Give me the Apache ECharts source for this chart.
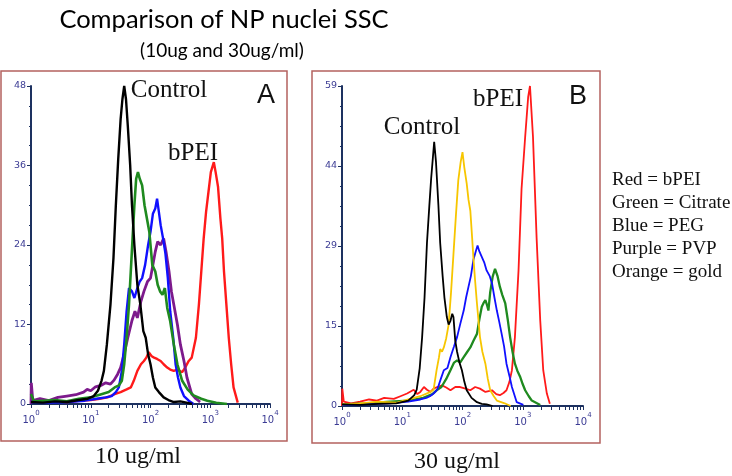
<!DOCTYPE html>
<html>
<head>
<meta charset="utf-8">
<script src="https://cdn.jsdelivr.net/npm/echarts@6/dist/echarts.min.js"></script>
<style>
  html, body { margin: 0; padding: 0; background: #fff; }
  #main { width: 732px; height: 476px; }
</style>
</head>
<body>
<div id="main"></div>
<script>
// x positions are log10 of the SSC channel value, y is the event count
// panel A: 10 ug/ml
const blackA_x  = [0, 0.2, 0.4, 0.6, 0.8, 0.95, 1.05, 1.12, 1.18, 1.22, 1.27, 1.33, 1.38, 1.42, 1.46, 1.5, 1.53, 1.56, 1.59, 1.62, 1.66, 1.69, 1.73, 1.78, 1.83, 1.88, 1.92, 1.96, 2.0, 2.04, 2.08, 2.14, 2.22, 2.3, 2.39, 2.5, 2.6, 2.7];
const blackA_y  = [0.3, 0.2, 0.4, 0.3, 0.6, 0.8, 1.2, 2, 3.5, 5, 9, 15, 22, 30, 37, 43, 46, 48, 46, 42, 36, 30, 24, 18, 15, 11, 10, 7.5, 6, 4, 2.5, 1.8, 1, 0.6, 0.3, 0.4, 0.2, 0];
const greenA_x  = [0, 0.02, 0.05, 0.2, 0.4, 0.6, 0.8, 1.0, 1.15, 1.3, 1.4, 1.47, 1.52, 1.56, 1.6, 1.64, 1.67, 1.7, 1.73, 1.76, 1.79, 1.82, 1.86, 1.9, 1.94, 1.98, 2.03, 2.08, 2.12, 2.16, 2.2, 2.24, 2.28, 2.33, 2.39, 2.45, 2.53, 2.62, 2.72, 2.85, 2.95, 3.1, 3.28];
const greenA_y  = [1.5, 1.2, 0.4, 0.5, 0.6, 0.4, 0.8, 1.0, 1.4, 1.8, 2.5, 2.8, 3.5, 6, 10, 15, 20, 25, 30, 34, 35, 34, 33, 30, 28, 26, 21, 20, 18, 17, 16.5, 17.5, 14.5, 12.5, 9, 6, 3.5, 2.2, 1.3, 0.8, 0.5, 0.2, 0];
const blueA_x   = [0, 0.3, 0.6, 0.9, 1.1, 1.25, 1.35, 1.42, 1.47, 1.52, 1.56, 1.6, 1.64, 1.69, 1.73, 1.78, 1.82, 1.86, 1.91, 1.96, 2.0, 2.04, 2.08, 2.11, 2.14, 2.17, 2.21, 2.25, 2.29, 2.33, 2.38, 2.42, 2.46, 2.5, 2.56, 2.64, 2.72];
const blueA_y   = [0.3, 0.2, 0.3, 0.5, 0.8, 1, 1.2, 1.8, 2.5, 5, 9, 14, 17.5, 17, 16, 17.5, 18.5, 19, 21, 24, 26, 28.7, 29.5, 31, 29, 27, 25, 22.7, 19, 14, 10, 6, 4, 2.5, 1.2, 0.5, 0];
const purpleA_x = [0, 0.005, 0.03, 0.15, 0.3, 0.45, 0.6, 0.75, 0.88, 0.94, 1.0, 1.08, 1.17, 1.25, 1.33, 1.39, 1.45, 1.5, 1.56, 1.62, 1.69, 1.74, 1.78, 1.84, 1.89, 1.95, 2.0, 2.04, 2.08, 2.12, 2.17, 2.22, 2.26, 2.31, 2.35, 2.39, 2.45, 2.5, 2.56, 2.61, 2.69, 2.76, 2.83];
const purpleA_y = [0, 3.2, 0.5, 0.8, 0.5, 1.0, 1.2, 1.4, 1.8, 2.2, 2.0, 2.6, 2.8, 3.2, 3.0, 3.6, 4.5, 5.5, 7.6, 10, 12.6, 14, 13, 15.5, 17, 18.5, 19, 21, 23, 24.5, 24, 25, 23, 20, 17, 15, 12, 9, 6.5, 4, 1.5, 0.8, 0.3];
const redA_x    = [0, 0.2, 0.4, 0.6, 0.8, 1.0, 1.15, 1.28, 1.4, 1.5, 1.6, 1.67, 1.72, 1.78, 1.84, 1.89, 1.93, 1.97, 2.02, 2.06, 2.11, 2.17, 2.22, 2.28, 2.33, 2.39, 2.45, 2.53, 2.58, 2.64, 2.69, 2.72, 2.76, 2.81, 2.85, 2.89, 2.93, 2.97, 3.01, 3.06, 3.09, 3.13, 3.17, 3.2, 3.23, 3.27, 3.31, 3.35, 3.39, 3.46];
const redA_y    = [0.5, 0.3, 0.4, 0.3, 0.5, 0.6, 0.8, 1.0, 1.5, 1.8, 2.2, 2.5, 3.5, 5, 6, 6.5, 7, 7.8, 7.2, 7, 6.8, 6.5, 6, 5.5, 5.2, 5, 5.2, 4.8, 5.5, 6.5, 7, 7.2, 10, 15, 20, 25, 29, 32, 35, 36.5, 35, 32.8, 28, 25, 20, 15, 10, 6, 2.5, 0.2];

// panel B: 30 ug/ml
const blackB_x  = [0, 0.3, 0.6, 0.9, 1.1, 1.2, 1.24, 1.29, 1.33, 1.37, 1.41, 1.45, 1.48, 1.51, 1.53, 1.56, 1.6, 1.63, 1.67, 1.7, 1.74, 1.77, 1.8, 1.83, 1.85, 1.88, 1.91, 1.95, 1.99, 2.03, 2.07, 2.15, 2.24, 2.32, 2.4, 2.5];
const blackB_y  = [0.3, 0.2, 0.4, 0.5, 1, 2, 3, 7, 12.7, 20, 30, 37, 42, 46, 48.7, 45, 37, 30, 24, 20, 16.4, 15, 15.7, 17, 16.4, 12, 10, 8, 6.6, 4.5, 2.9, 1.5, 0.7, 0.4, 0.3, 0];
const goldB_x   = [0, 0.3, 0.6, 0.9, 1.1, 1.3, 1.45, 1.52, 1.57, 1.61, 1.63, 1.66, 1.69, 1.73, 1.77, 1.81, 1.85, 1.89, 1.93, 1.97, 2.0, 2.03, 2.07, 2.1, 2.13, 2.16, 2.18, 2.21, 2.24, 2.29, 2.33, 2.38, 2.42, 2.46, 2.52, 2.57, 2.7, 2.8];
const goldB_y   = [0.3, 0.5, 0.8, 0.6, 1.2, 1.8, 2.5, 3, 6.6, 9, 10.5, 10, 10.8, 12.5, 15, 21, 28, 35, 41.6, 45, 46.8, 44, 41, 38, 36, 31, 27.5, 23, 18.9, 12.7, 10, 7.8, 5, 2.9, 1.8, 1, 0.5, 0];
const blueB_x   = [0, 0.4, 0.8, 1.1, 1.3, 1.4, 1.46, 1.52, 1.58, 1.64, 1.69, 1.75, 1.8, 1.86, 1.91, 1.96, 2.02, 2.06, 2.1, 2.14, 2.18, 2.22, 2.25, 2.28, 2.32, 2.36, 2.4, 2.45, 2.49, 2.53, 2.57, 2.61, 2.65, 2.69, 2.73, 2.78, 2.82, 2.9, 3.01];
const blueB_y   = [0.2, 0.3, 0.5, 0.8, 1.2, 1.5, 1.8, 2.3, 3, 5, 6.6, 7, 9, 11, 12.7, 15, 17.6, 20, 22, 24, 26.9, 28.5, 29.6, 28.5, 27.5, 26.5, 25, 24, 22.6, 20, 17.6, 15.5, 13.3, 11, 7.8, 5.5, 3.5, 0.7, 0.2];
const greenB_x  = [0, 0.4, 0.8, 1.1, 1.35, 1.5, 1.57, 1.65, 1.73, 1.8, 1.86, 1.91, 1.96, 2.02, 2.08, 2.13, 2.18, 2.24, 2.28, 2.32, 2.35, 2.38, 2.41, 2.43, 2.46, 2.5, 2.54, 2.58, 2.62, 2.66, 2.71, 2.75, 2.79, 2.83, 2.87, 2.91, 2.96, 3.0, 3.04, 3.1, 3.15, 3.29];
const greenB_y  = [0.3, 0.5, 0.8, 1, 1.5, 2.2, 2.9, 3.5, 5, 6.6, 8, 8.4, 8, 9, 10, 10.8, 12, 13.3, 16, 18.3, 19, 19.5, 18.5, 17.6, 21, 23.8, 25.3, 24, 22, 20.5, 18.9, 16, 12.7, 10, 7.8, 6.5, 5.3, 4, 2.9, 1.8, 1, 0.2];
const redB_x    = [0, 0.005, 0.03, 0.15, 0.3, 0.45, 0.58, 0.7, 0.86, 0.97, 1.08, 1.19, 1.25, 1.3, 1.36, 1.41, 1.47, 1.52, 1.58, 1.66, 1.73, 1.8, 1.88, 1.96, 2.05, 2.13, 2.21, 2.29, 2.38, 2.49, 2.56, 2.62, 2.68, 2.73, 2.78, 2.82, 2.87, 2.93, 2.98, 3.04, 3.09, 3.12, 3.17, 3.23, 3.29, 3.34, 3.4, 3.45];
const redB_y    = [0, 3.2, 0.8, 0.5, 0.8, 1.2, 1.0, 1.5, 1.3, 1.8, 2.3, 3.0, 2.2, 2.6, 3.5, 3.0, 2.6, 3.2, 3.5, 3.8, 3.4, 2.9, 3.5, 3.5, 3.2, 2.9, 3.5, 3.2, 2.6, 2.9, 2.2, 2.0, 2.4, 2.9, 4.5, 6.6, 12.7, 25, 40, 49.6, 57, 59, 49.6, 31, 15.8, 6.6, 2.3, 0.4];

// axis ticks
const xDecades = [0, 1, 2, 3, 4];
const yTicksA = ['0', '12', '24', '36', '48'];
const yTicksB = ['0', '15', '29', '44', '59'];
const legendLines = ['Red = bPEI', 'Green = Citrate', 'Blue = PEG', 'Purple = PVP', 'Orange = gold'];

const navy = '#1d3160';
const labelBlue = '#3b3b94';
const frameColor = '#b4625f';

function pts(xs, ys) {
  return xs.map((d, i) => [Math.pow(10, d), ys[i]]);
}

const xLabelVals = xDecades.map(d => Math.pow(10, d));
const xTickVals = [];
xDecades.slice(0, 4).forEach(d => {
  for (let k = 1; k <= 9; k++) xTickVals.push(k * Math.pow(10, d));
});
xTickVals.push(10000);

function xAxis(idx) {
  return {
    type: 'log', logBase: 10, min: 1, max: 10000, gridIndex: idx,
    axisLine: { lineStyle: { color: navy, width: 2 } },
    axisTick: { customValues: xTickVals, length: 4, lineStyle: { color: navy, width: 1 } },
    splitLine: { show: false },
    axisLabel: {
      customValues: xLabelVals,
      margin: 6,
      formatter: v => '{b|10}{s|' + Math.round(Math.log10(v)) + '}',
      rich: {
        b: { fontSize: 10, color: labelBlue, fontFamily: 'DejaVu Sans', padding: [5, 0, 0, 0] },
        s: { fontSize: 7, color: labelBlue, fontFamily: 'DejaVu Sans', verticalAlign: 'top' }
      }
    }
  };
}

function yAxis(idx, max, labels) {
  return {
    type: 'value', min: 0, max: max, interval: max / 4, gridIndex: idx,
    axisLine: { show: true, lineStyle: { color: navy, width: 2 } },
    axisTick: { show: true, length: 4, lineStyle: { color: navy } },
    minorTick: { show: true, splitNumber: 4, length: 2, lineStyle: { color: navy } },
    splitLine: { show: false },
    axisLabel: {
      margin: 5, fontSize: 9.5, color: labelBlue, fontFamily: 'DejaVu Sans',
      formatter: (v, i) => labels[i]
    }
  };
}

function line(name, xi, data, color, w) {
  return {
    name: name, type: 'line', xAxisIndex: xi, yAxisIndex: xi, data: data,
    showSymbol: false, symbol: 'none', animation: false,
    lineStyle: { color: color, width: w }
  };
}

const serif = 'Liberation Serif';
function txt(x, y, text, size, family, align) {
  return {
    type: 'text', x: x, y: y,
    style: { text: text, fontSize: size, fontFamily: family, fill: '#111', align: align || 'center', verticalAlign: 'middle' }
  };
}

const chart = echarts.init(document.getElementById('main'));
chart.setOption({
  animation: false,
  backgroundColor: '#fff',
  title: [
    { text: 'Comparison of NP nuclei SSC', left: 219, top: 2, textAlign: 'center',
      textStyle: { fontFamily: 'Lato', fontWeight: 'normal', fontSize: 25.5, color: '#000' } },
    { text: '(10ug and 30ug/ml)', left: 217, top: 36, textAlign: 'center',
      textStyle: { fontFamily: 'Lato', fontWeight: 'normal', fontSize: 19, color: '#000' } }
  ],
  grid: [
    { left: 31, top: 86, width: 239, height: 318 },
    { left: 342, top: 86, width: 241, height: 320 }
  ],
  xAxis: [xAxis(0), xAxis(1)],
  yAxis: [yAxis(0, 48, yTicksA), yAxis(1, 59, yTicksB)],
  series: [
    line('bPEI', 0, pts(redA_x, redA_y), '#ff1a1a', 2.4),
    line('PVP', 0, pts(purpleA_x, purpleA_y), '#7d1a8c', 2.8),
    line('PEG', 0, pts(blueA_x, blueA_y), '#1010ff', 2.4),
    line('Citrate', 0, pts(greenA_x, greenA_y), '#1f8a1f', 2.6),
    line('Control', 0, pts(blackA_x, blackA_y), '#000', 2.4),
    line('bPEI', 1, pts(redB_x, redB_y), '#ff1a1a', 1.8),
    line('Citrate', 1, pts(greenB_x, greenB_y), '#1f8a1f', 2.3),
    line('PEG', 1, pts(blueB_x, blueB_y), '#1010ff', 1.8),
    line('gold', 1, pts(goldB_x, goldB_y), '#f7c600', 1.8),
    line('Control', 1, pts(blackB_x, blackB_y), '#000', 1.8)
  ],
  graphic: [
    { type: 'rect', shape: { x: 1, y: 71, width: 286, height: 370 }, style: { fill: 'none', stroke: frameColor, lineWidth: 1.5 }, silent: true },
    { type: 'rect', shape: { x: 312, y: 71, width: 288, height: 372 }, style: { fill: 'none', stroke: frameColor, lineWidth: 1.5 }, silent: true },
    txt(169, 90, 'Control', 25, serif),
    txt(193, 153, 'bPEI', 25, serif),
    txt(266, 96, 'A', 27, 'Liberation Sans'),
    txt(422, 127, 'Control', 25, serif),
    txt(498, 99, 'bPEI', 25, serif),
    txt(578, 97, 'B', 27, 'Liberation Sans'),
    txt(138, 457, '10 ug/ml', 24, serif),
    txt(457, 462, '30 ug/ml', 24, serif),
    {
      type: 'text', x: 612, y: 169,
      style: { text: legendLines.join('\n'), fontSize: 19, lineHeight: 23, fontFamily: serif, fill: '#111', align: 'left', verticalAlign: 'top' }
    }
  ]
});
</script>
</body>
</html>
